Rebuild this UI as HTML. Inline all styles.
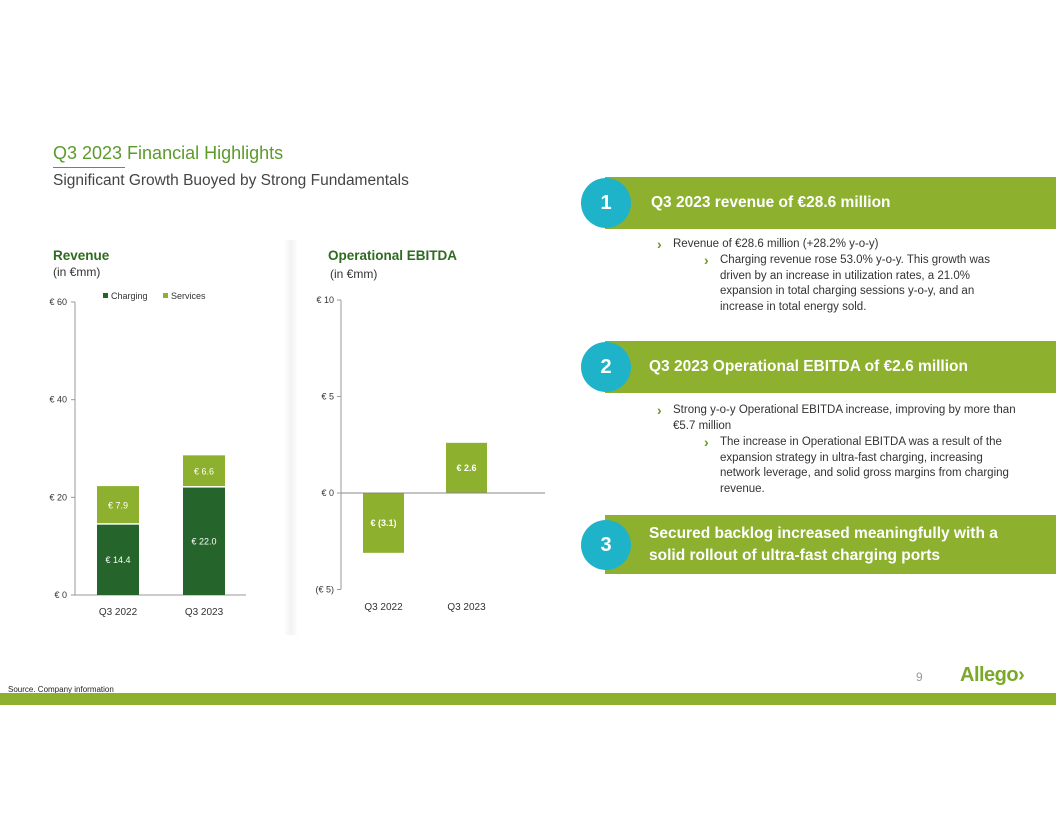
<!DOCTYPE html>
<html><head><meta charset="utf-8"><style>
body{margin:0;width:1056px;height:816px;background:#fff;position:relative;overflow:hidden;font-family:"Liberation Sans",sans-serif}
.abs{position:absolute}
.banner{position:absolute;left:605px;right:0;background:#8db02f;color:#fff;font-weight:bold;font-size:15.5px}
.circ{position:absolute;width:50px;height:50px;border-radius:50%;background:#1fb3c9;color:#fff;font-weight:bold;font-size:20px;text-align:center;line-height:50px}
.txt{position:absolute;font-size:11.5px;color:#333;line-height:15.5px;white-space:nowrap}
.chev{color:#6a9a1f;font-weight:bold;position:absolute;left:-16px;font-size:14px}
</style></head><body>
<div class="abs" style="left:53px;top:143px;font-size:18px;color:#5c9a2a">Q3 2023 Financial Highlights</div>
<div class="abs" style="left:53px;top:167px;width:72px;height:1px;background:#5c9a2a"></div>
<div class="abs" style="left:53px;top:172px;font-size:15.5px;color:#444">Significant Growth Buoyed by Strong Fundamentals</div>

<div class="banner" style="top:177px;height:52px;"><span style="position:absolute;left:46px;top:17px">Q3 2023 revenue of €28.6 million</span></div>
<div class="circ" style="left:581px;top:178px">1</div>
<div class="txt" style="left:673px;top:237px"><span class="chev">›</span>Revenue of €28.6 million (+28.2% y-o-y)</div>
<div class="txt" style="left:720px;top:253px"><span class="chev">›</span>Charging revenue rose 53.0% y-o-y. This growth was<br>driven by an increase in utilization rates, a 21.0%<br>expansion in total charging sessions y-o-y, and an<br>increase in total energy sold.</div>

<div class="banner" style="top:341px;height:52px;"><span style="position:absolute;left:44px;top:17px">Q3 2023 Operational EBITDA of €2.6 million</span></div>
<div class="circ" style="left:581px;top:342px">2</div>
<div class="txt" style="left:673px;top:403px"><span class="chev">›</span>Strong y-o-y Operational EBITDA increase, improving by more than<br>€5.7 million</div>
<div class="txt" style="left:720px;top:435px"><span class="chev">›</span>The increase in Operational EBITDA was a result of the<br>expansion strategy in ultra-fast charging, increasing<br>network leverage, and solid gross margins from charging<br>revenue.</div>

<div class="banner" style="top:515px;height:59px;"><span style="position:absolute;left:44px;top:8px;line-height:22px">Secured backlog increased meaningfully with a<br>solid rollout of ultra-fast charging ports</span></div>
<div class="circ" style="left:581px;top:520px">3</div>

<div class="abs" style="left:284px;top:240px;width:14px;height:395px;background:linear-gradient(90deg,#fff,#f2f2f2,#fff)"></div>

<svg class="abs" style="left:0;top:0" width="1056" height="816" id="charts">
<text x="53" y="260" font-size="13.5" font-weight="bold" fill="#2e6b1f">Revenue</text>
<text x="53" y="276" font-size="12" fill="#333">(in €mm)</text>
<text x="328" y="260" font-size="13.5" font-weight="bold" fill="#2e6b1f">Operational EBITDA</text>
<text x="330" y="278" font-size="12" fill="#333">(in €mm)</text>
<rect x="103" y="293" width="5" height="5" fill="#25642a"/>
<text x="111" y="299" font-size="9" fill="#333">Charging</text>
<rect x="163" y="293" width="5" height="5" fill="#8db02f"/>
<text x="171" y="299" font-size="9" fill="#333">Services</text>
<g id="rev"></g><g id="ebi"></g>
</svg>

<div class="abs" style="left:916px;top:670px;font-size:12px;color:#999">9</div>
<div class="abs" style="left:960px;top:664px;font-size:20px;font-weight:bold;color:#7aa829;letter-spacing:-0.5px">Allego›</div>
<div class="abs" style="left:8px;top:685px;font-size:8px;color:#222">Source. Company information</div>
<div class="abs" style="left:0;top:693px;width:1056px;height:12px;background:#8db02f"></div>

<script>
const revCategories=["Q3 2022","Q3 2023"];
const revCharging=[14.4,22.0];
const revServices=[7.9,6.6];
const revTicks=[0,20,40,60];
const ebiCategories=["Q3 2022","Q3 2023"];
const ebiValues=[-3.1,2.6];
const ebiTicks=[-5,0,5,10];
const NS="http://www.w3.org/2000/svg";
function mk(p,t,a,txt){const e=document.createElementNS(NS,t);for(const k in a)e.setAttribute(k,a[k]);if(txt!=null)e.textContent=txt;p.appendChild(e);return e;}
const fmt=v=>v<0?"€ ("+Math.abs(v).toFixed(1)+")":"€ "+v.toFixed(1);
const rg=document.getElementById('rev');
const ry=v=>595-v*(595-302)/60, rx=i=>97+i*86, bw=42;
let ax=mk(rg,'line',{x1:75,y1:ry(60),x2:75,y2:595,stroke:'#999'});

let bx=mk(rg,'line',{x1:75,y1:595,x2:246,y2:595,stroke:'#999'});

revTicks.forEach(t=>{mk(rg,'line',{x1:71,y1:ry(t),x2:75,y2:ry(t),stroke:'#999'});
 const l=mk(rg,'text',{x:67,y:ry(t)+3,'font-size':9,fill:'#333','text-anchor':'end'},"€ "+t);
 });
revCategories.forEach((c,i)=>{
 const a=mk(rg,'rect',{x:rx(i),y:ry(revCharging[i]),width:bw,height:ry(0)-ry(revCharging[i]),fill:'#25642a'});
 
 const top=revCharging[i]+revServices[i];
 const b=mk(rg,'rect',{x:rx(i),y:ry(top),width:bw,height:ry(revCharging[i])-ry(top)-1.5,fill:'#8db02f'});
 
 mk(rg,'text',{x:rx(i)+bw/2,y:(ry(0)+ry(revCharging[i]))/2+3,'font-size':9,fill:'#fff','text-anchor':'middle'},fmt(revCharging[i]));
 mk(rg,'text',{x:rx(i)+bw/2,y:(ry(top)+ry(revCharging[i]))/2+3,'font-size':9,fill:'#fff','text-anchor':'middle'},fmt(revServices[i]));
 const xl=mk(rg,'text',{x:rx(i)+bw/2,y:615,'font-size':10,fill:'#333','text-anchor':'middle'},c);
 
});
const eg=document.getElementById('ebi');
const ey=v=>493-v*(493-300)/10, ex=i=>363+i*83, ew=41;
let ea=mk(eg,'line',{x1:341,y1:ey(10),x2:341,y2:ey(-5),stroke:'#999'});

ebiTicks.forEach(t=>{mk(eg,'line',{x1:337,y1:ey(t),x2:341,y2:ey(t),stroke:'#999'});
 const l=mk(eg,'text',{x:334,y:ey(t)+3,'font-size':9,fill:'#333','text-anchor':'end'},t<0?"(€ "+(-t)+")":"€ "+t);
 });
ebiCategories.forEach((c,i)=>{
 const v=ebiValues[i];
 const r=mk(eg,'rect',{x:ex(i),y:Math.min(ey(0),ey(v)),width:ew,height:Math.abs(ey(v)-ey(0)),fill:'#8db02f'});
 
 mk(eg,'text',{x:ex(i)+ew/2,y:ey(v/2)+3,'font-size':9,'font-weight':'bold',fill:'#fff','text-anchor':'middle'},fmt(v));
 const xl=mk(eg,'text',{x:ex(i)+ew/2,y:610,'font-size':10,fill:'#333','text-anchor':'middle'},c);
 
});
let ez=mk(eg,'line',{x1:341,y1:ey(0),x2:545,y2:ey(0),stroke:'#888'});

</script>
</body></html>
